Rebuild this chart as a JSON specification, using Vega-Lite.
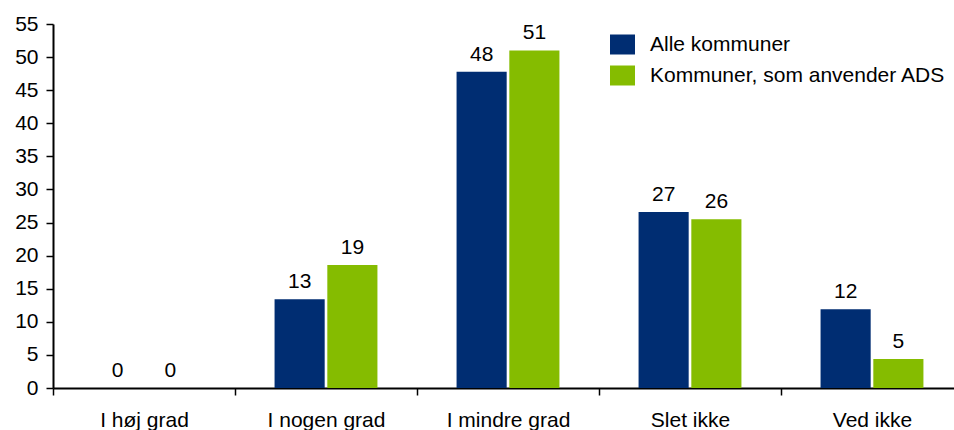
{
  "$schema": "https://vega.github.io/schema/vega-lite/v6.json",
  "width": 901,
  "height": 364,
  "autosize": {"type": "none"},
  "padding": {"left": 53, "top": 24, "right": 0, "bottom": 42},
  "config": {
    "font": "Liberation Sans",
    "view": {"stroke": null},
    "axis": {"grid": false, "domainColor": "black", "tickColor": "black", "labelColor": "black", "labelFontSize": 21, "domainWidth": 2, "tickWidth": 1.5, "labelFont": "Liberation Sans"},
    "legend": {"labelFont": "Liberation Sans"}
  },
  "data": {
    "values": [
      {"cat": "I høj grad", "series": "Alle kommuner", "value": 0, "label": "0"},
      {"cat": "I høj grad", "series": "Kommuner, som anvender ADS", "value": 0, "label": "0"},
      {"cat": "I nogen grad", "series": "Alle kommuner", "value": 13.4, "label": "13"},
      {"cat": "I nogen grad", "series": "Kommuner, som anvender ADS", "value": 18.6, "label": "19"},
      {"cat": "I mindre grad", "series": "Alle kommuner", "value": 47.8, "label": "48"},
      {"cat": "I mindre grad", "series": "Kommuner, som anvender ADS", "value": 51.0, "label": "51"},
      {"cat": "Slet ikke", "series": "Alle kommuner", "value": 26.6, "label": "27"},
      {"cat": "Slet ikke", "series": "Kommuner, som anvender ADS", "value": 25.5, "label": "26"},
      {"cat": "Ved ikke", "series": "Alle kommuner", "value": 11.9, "label": "12"},
      {"cat": "Ved ikke", "series": "Kommuner, som anvender ADS", "value": 4.4, "label": "5"}
    ]
  },
  "encoding": {
    "x": {
      "field": "cat", "type": "nominal",
      "sort": ["I høj grad", "I nogen grad", "I mindre grad", "Slet ikke", "Ved ikke"],
      "scale": {"paddingInner": 0, "paddingOuter": 0, "range": [0, 910]},
      "axis": {"title": null, "labelAngle": 0, "tickBand": "extent", "tickSize": 7, "labelPadding": 14}
    },
    "xOffset": {
      "field": "series", "type": "nominal",
      "sort": ["Alle kommuner", "Kommuner, som anvender ADS"],
      "scale": {"paddingInner": 0.05, "paddingOuter": 0.75}
    },
    "y": {
      "field": "value", "type": "quantitative",
      "scale": {"domain": [0, 55], "nice": false},
      "axis": {"title": null, "values": [0, 5, 10, 15, 20, 25, 30, 35, 40, 45, 50, 55], "tickSize": 7, "labelPadding": 8, "domain": true}
    }
  },
  "layer": [
    {
      "mark": {"type": "bar"},
      "encoding": {
        "color": {
          "field": "series", "type": "nominal",
          "sort": ["Alle kommuner", "Kommuner, som anvender ADS"],
          "scale": {"range": ["#002D72", "#85BC00"]},
          "legend": {
            "title": null, "orient": "none", "legendX": 557, "legendY": 8,
            "symbolType": "M-1,-0.8H1V0.8H-1Z", "symbolSize": 625, "symbolStrokeWidth": 0,
            "labelFontSize": 21, "labelColor": "black", "labelOffset": 15, "rowPadding": 8, "labelLimit": 0
          }
        }
      }
    },
    {
      "mark": {"type": "text", "baseline": "alphabetic", "dy": -11, "fontSize": 21, "color": "black"},
      "encoding": {"text": {"field": "label"}}
    }
  ]
}
